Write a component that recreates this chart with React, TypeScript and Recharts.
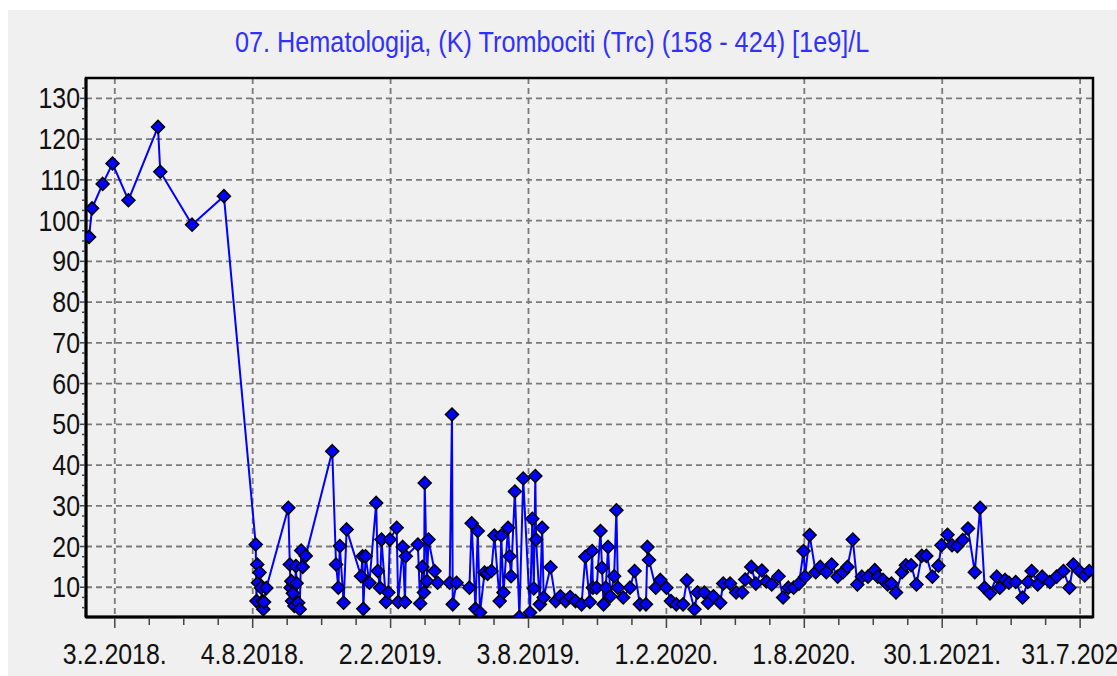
import { LineChart, Line, XAxis, YAxis, CartesianGrid, ReferenceArea } from "recharts";

document.body.style.margin = "0";

const chartTitle = "07. Hematologija, (K) Trombociti (Trc) (158 - 424) [1e9]/L";

// sample dates and platelet counts
const sampleDates = [
  "2017-12-31", "2018-01-04", "2018-01-18", "2018-01-31", "2018-02-21", "2018-04-01", "2018-04-04", "2018-05-16", "2018-06-27",
  "2018-08-08", "2018-08-09", "2018-08-10", "2018-08-11", "2018-08-13", "2018-08-15", "2018-08-17", "2018-08-18", "2018-08-19", "2018-08-22",
  "2018-09-20", "2018-09-22", "2018-09-23", "2018-09-24", "2018-09-25", "2018-09-26", "2018-09-28", "2018-09-30", "2018-10-01", "2018-10-03",
  "2018-10-05", "2018-10-07", "2018-10-09", "2018-10-13", "2018-11-17", "2018-11-22", "2018-11-25", "2018-11-27", "2018-12-02", "2018-12-06",
  "2018-12-25", "2018-12-27", "2018-12-28", "2018-12-31", "2019-01-05", "2019-01-14", "2019-01-16", "2019-01-19", "2019-01-21", "2019-01-27",
  "2019-01-30", "2019-02-01", "2019-02-10", "2019-02-12", "2019-02-18", "2019-02-21", "2019-02-22", "2019-03-10", "2019-03-13", "2019-03-16",
  "2019-03-18", "2019-03-19", "2019-03-22", "2019-03-24", "2019-04-01", "2019-04-05", "2019-04-21", "2019-04-24", "2019-04-25", "2019-04-30",
  "2019-05-17", "2019-05-20", "2019-05-25", "2019-05-28", "2019-05-31", "2019-06-06", "2019-06-10", "2019-06-15", "2019-06-19", "2019-06-26",
  "2019-06-28", "2019-07-01", "2019-07-07", "2019-07-09", "2019-07-11", "2019-07-16", "2019-07-22", "2019-07-27", "2019-08-05", "2019-08-08",
  "2019-08-10", "2019-08-12", "2019-08-13", "2019-08-18", "2019-08-21", "2019-08-23", "2019-09-01", "2019-09-08", "2019-09-14", "2019-09-21",
  "2019-09-27", "2019-10-04", "2019-10-12", "2019-10-17", "2019-10-23", "2019-10-26", "2019-10-27", "2019-11-01", "2019-11-06", "2019-11-08",
  "2019-11-10", "2019-11-13", "2019-11-16", "2019-11-19", "2019-11-24", "2019-11-27", "2019-11-29", "2019-12-06", "2019-12-15", "2019-12-21",
  "2019-12-28", "2020-01-05", "2020-01-07", "2020-01-09", "2020-01-18", "2020-01-24", "2020-02-01", "2020-02-07", "2020-02-14", "2020-02-23",
  "2020-02-28", "2020-03-09", "2020-03-13", "2020-03-22", "2020-03-27", "2020-04-03", "2020-04-12", "2020-04-16", "2020-04-25", "2020-05-03",
  "2020-05-11", "2020-05-15", "2020-05-23", "2020-05-29", "2020-06-06", "2020-06-12", "2020-06-19", "2020-06-28", "2020-07-04", "2020-07-11",
  "2020-07-18", "2020-07-25", "2020-07-31", "2020-08-02", "2020-08-08", "2020-08-16", "2020-08-22", "2020-08-30", "2020-09-06", "2020-09-14",
  "2020-09-21", "2020-09-27", "2020-10-04", "2020-10-10", "2020-10-16", "2020-10-24", "2020-11-02", "2020-11-06", "2020-11-13", "2020-11-19",
  "2020-11-24", "2020-11-30", "2020-12-08", "2020-12-13", "2020-12-20", "2020-12-27", "2021-01-03", "2021-01-09", "2021-01-17", "2021-01-25",
  "2021-01-29", "2021-02-06", "2021-02-12", "2021-02-19", "2021-02-26", "2021-03-05", "2021-03-14", "2021-03-21", "2021-03-27", "2021-04-03",
  "2021-04-12", "2021-04-16", "2021-04-23", "2021-04-28", "2021-05-07", "2021-05-16", "2021-05-23", "2021-05-28", "2021-06-05", "2021-06-11",
  "2021-06-21", "2021-06-30", "2021-07-09", "2021-07-17", "2021-07-22", "2021-07-30", "2021-08-06", "2021-08-12",
];

const plateletCounts = [
  96, 103, 109, 114, 105, 123, 112, 99, 106,
  20.5, 6.6, 15.6, 11.1, 13.6, 9.9, 6.6, 4.6, 6.4, 9.8,
  29.5, 15.6, 9.9, 11.5, 6.6, 8.5, 5.4, 15.2, 11, 6.2,
  4.6, 19, 15, 17.7, 43.4, 15.6, 9.9, 20.1, 6.2, 24.2,
  12.7, 17.6, 4.7, 17.6, 11.1, 30.7, 14, 9.9, 21.7, 6.4,
  8.7, 21.7, 24.6, 6.4, 19.9, 6.4, 17.6, 20.5, 6, 15,
  8.7, 35.6, 11.5, 21.7, 14, 11.1, 11.1, 52.4, 5.8, 11.1,
  9.9, 25.7, 4.7, 23.8, 3.8, 13.6, 13.3, 14, 22.7, 6.6,
  22.7, 8.7, 24.6, 17.6, 12.7, 33.5, 2.7, 36.7, 3.8, 26.8,
  9.7, 37.3, 21.7, 5.8, 24.6, 7.5, 14.9, 6.6, 7.8, 6.6,
  7.6, 6.6, 5.8, 17.5, 6.4, 18.9, 9.9, 9.9, 23.8, 14.8,
  5.8, 9.9, 19.9, 7.8, 12.7, 28.9, 9.9, 7.5, 9.9, 14,
  5.8, 5.8, 19.9, 16.7, 9.9, 11.8, 9.9, 6.6, 5.8, 5.8,
  11.7, 4.6, 8.7, 8.7, 6.2, 7.8, 6.2, 10.9, 10.9, 8.7,
  8.7, 11.9, 15, 10.9, 14.1, 11.4, 10.7, 12.7, 7.5, 9.9,
  9.9, 10.9, 18.9, 12.6, 22.8, 13.7, 15, 13.7, 15.6, 12.6,
  13.7, 15, 21.7, 10.7, 12.6, 12.6, 14.2, 12.6, 11.8, 10.7,
  10.9, 8.7, 13.7, 15.4, 15.4, 10.7, 17.7, 17.7, 12.6, 15.3,
  20.3, 22.9, 20.3, 20.1, 21.6, 24.4, 13.7, 29.5, 9.9, 8.5,
  12.6, 9.9, 11.8, 11.1, 11.3, 7.5, 11.3, 14, 10.7, 12.6,
  11.3, 12.6, 14, 9.9, 15.6, 14, 12.9, 14,
];

const xTickDates = ["2018-02-03", "2018-08-04", "2019-02-02", "2019-08-03", "2020-02-01", "2020-08-01", "2021-01-30", "2021-07-31"];
const xDomainDates = ["2017-12-27", "2021-08-17"];
const yMajorTicks = [10, 20, 30, 40, 50, 60, 70, 80, 90, 100, 110, 120, 130];
const yDomain: [number, number] = [2.7, 135];

const FONT = "'Liberation Sans', Arial, sans-serif";
const toTime = (s: string) => Date.parse(s + "T00:00:00Z");

const chartData = sampleDates.map((d, i) => ({ t: toTime(d), value: plateletCounts[i] }));
const xMajor = xTickDates.map(toTime);
const xDomain: [number, number] = [toTime(xDomainDates[0]), toTime(xDomainDates[1])];

// minor ticks: four steps between each labelled date
const xStep = (xMajor[1] - xMajor[0]) / 4;
const xAllTicks: number[] = [];
for (let t = xMajor[0]; t <= xDomain[1]; t += xStep) xAllTicks.push(t);

const yAllTicks: number[] = [];
for (let v = 5; v < yDomain[1]; v += 2.5) yAllTicks.push(v);

const formatDate = (t: number) => {
  const d = new Date(t);
  return `${d.getUTCDate()}.${d.getUTCMonth() + 1}.${d.getUTCFullYear()}.`;
};

function XTick(props: any) {
  const { x, y, payload } = props;
  const major = xMajor.includes(payload.value);
  return (
    <g>
      <line x1={x} x2={x} y1={y + 1} y2={y + (major ? 11 : 8)} stroke="#444" strokeWidth={1.5} />
      {major && (
        <text
          transform={`translate(${x},${y + 47}) scale(0.86,1)`}
          textAnchor="middle"
          fontSize={29}
          fontFamily={FONT}
          fill="#111"
        >
          {formatDate(payload.value)}
        </text>
      )}
    </g>
  );
}

function YTick(props: any) {
  const { x, y, payload } = props;
  const major = payload.value % 10 === 0;
  return (
    <g>
      <line x1={x - (major ? 6 : 4)} x2={x - 1} y1={y} y2={y} stroke="#444" strokeWidth={1.5} />
      {major && (
        <text
          transform={`translate(${x - 6},${y + 10}) scale(0.86,1)`}
          textAnchor="end"
          fontSize={29}
          fontFamily={FONT}
          fill="#111"
        >
          {payload.value}
        </text>
      )}
    </g>
  );
}

function Diamond(props: any) {
  const { cx, cy, index } = props;
  const r = 6.5;
  return (
    <path
      key={`dot-${index}`}
      d={`M${cx},${cy - r}L${cx + r},${cy}L${cx},${cy + r}L${cx - r},${cy}Z`}
      fill="#0000ff"
      stroke="#000"
      strokeWidth={1.5}
    />
  );
}

export default function App() {
  return (
    <div
      style={{
        position: "relative",
        margin: "10px 0 0 8px",
        width: 1109,
        height: 666,
        background: "#f0f0f0",
        overflow: "hidden",
      }}
    >
      <div
        style={{
          position: "absolute",
          left: 227,
          top: 18,
          fontFamily: FONT,
          fontSize: 29,
          lineHeight: "29px",
          whiteSpace: "nowrap",
          color: "#3030ff",
          transform: "scaleX(0.87)",
          transformOrigin: "0 0",
        }}
      >
        {chartTitle}
      </div>
      <LineChart width={1109} height={666} data={chartData} margin={{ top: 68, right: 24, bottom: 0, left: 0 }}>
        <CartesianGrid
          stroke="#7a7a7a"
          strokeWidth={1.8}
          strokeDasharray="6 4"
          horizontalValues={yMajorTicks}
          verticalValues={xMajor}
        />
        <XAxis
          dataKey="t"
          type="number"
          domain={xDomain}
          allowDataOverflow
          ticks={xAllTicks}
          interval={0}
          tick={XTick}
          tickLine={false}
          tickSize={0}
          tickMargin={0}
          height={59}
          axisLine={{ stroke: "#000", strokeWidth: 3 }}
        />
        <YAxis
          type="number"
          domain={yDomain}
          allowDataOverflow
          ticks={yAllTicks}
          interval={0}
          tick={YTick}
          tickLine={false}
          tickSize={0}
          tickMargin={0}
          width={78}
          axisLine={{ stroke: "#000", strokeWidth: 3 }}
        />
        <ReferenceArea
          x1={xDomain[0]}
          x2={xDomain[1]}
          y1={yDomain[0]}
          y2={yDomain[1]}
          fill="none"
          fillOpacity={0}
          stroke="#000"
          strokeWidth={2.5}
        />
        <Line
          type="linear"
          dataKey="value"
          stroke="#0000ff"
          strokeWidth={2}
          dot={Diamond}
          activeDot={false}
          isAnimationActive={false}
        />
      </LineChart>
    </div>
  );
}
